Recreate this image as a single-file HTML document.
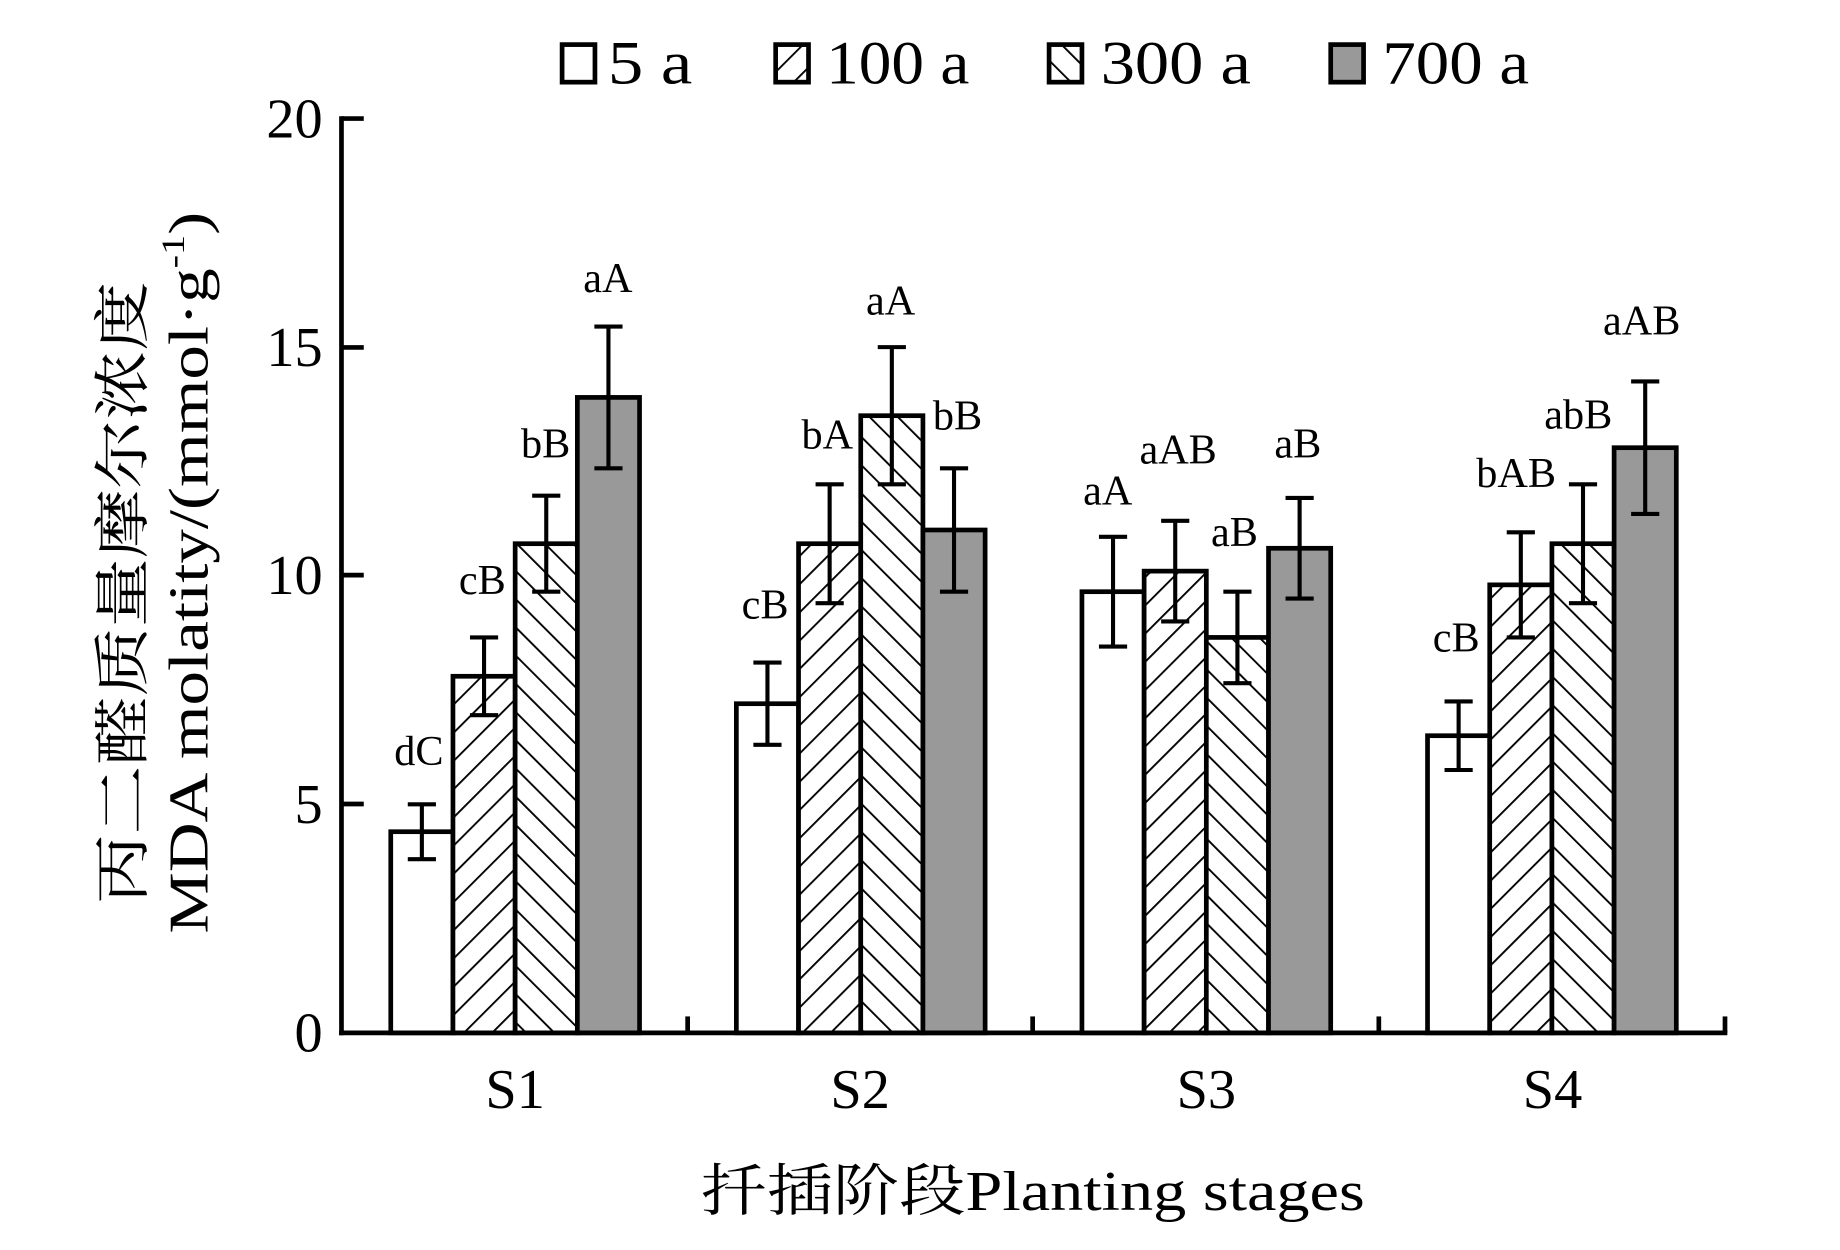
<!DOCTYPE html>
<html><head><meta charset="utf-8"><style>
html,body{margin:0;padding:0;background:#fff;}
svg{display:block;}
text{font-family:"Liberation Serif","Noto Serif CJK SC","Noto Sans CJK SC",serif;fill:#000;}
</style></head><body>
<svg width="1840" height="1250" viewBox="0 0 1568 1065" preserveAspectRatio="none" xmlns="http://www.w3.org/2000/svg">
<defs>
<pattern id="h1" patternUnits="userSpaceOnUse" width="17" height="17" patternTransform="rotate(45)">
<rect width="17" height="17" fill="#fff"/><line x1="0" y1="0" x2="0" y2="17" stroke="#000" stroke-width="3.2"/></pattern>
<pattern id="h2" patternUnits="userSpaceOnUse" width="17" height="17" patternTransform="rotate(-45)">
<rect width="17" height="17" fill="#fff"/><line x1="0" y1="0" x2="0" y2="17" stroke="#000" stroke-width="3.2"/></pattern>
</defs>
<g font-size="52">
<rect x="479" y="38" width="28" height="32" fill="#fff" stroke="#000" stroke-width="4"/>
<text x="518" y="71" textLength="72" lengthAdjust="spacingAndGlyphs">5 a</text>
<rect x="661" y="38" width="28" height="32" fill="url(#h1)" stroke="#000" stroke-width="4"/>
<text x="704" y="71" textLength="122" lengthAdjust="spacingAndGlyphs">100 a</text>
<rect x="894" y="38" width="28" height="32" fill="url(#h2)" stroke="#000" stroke-width="4"/>
<text x="938" y="71" textLength="128" lengthAdjust="spacingAndGlyphs">300 a</text>
<rect x="1134" y="38" width="28" height="32" fill="#999" stroke="#000" stroke-width="4"/>
<text x="1178" y="71" textLength="125" lengthAdjust="spacingAndGlyphs">700 a</text>
</g>
<g id="bars" stroke="#000" stroke-width="4"></g>
<g stroke="#000" stroke-width="4" fill="none">
<line x1="291" y1="99" x2="291" y2="882"/>
<line x1="289" y1="880" x2="1472" y2="880"/>
<line x1="291" y1="101" x2="310" y2="101"/>
<line x1="291" y1="296" x2="310" y2="296"/>
<line x1="291" y1="490" x2="310" y2="490"/>
<line x1="291" y1="685" x2="310" y2="685"/>
<line x1="586" y1="880" x2="586" y2="866"/>
<line x1="880" y1="880" x2="880" y2="866"/>
<line x1="1175" y1="880" x2="1175" y2="866"/>
<line x1="1470" y1="880" x2="1470" y2="866"/>
</g>
<g font-size="48" text-anchor="end">
<text x="275" y="117">20</text>
<text x="275" y="312">15</text>
<text x="275" y="506">10</text>
<text x="275" y="701">5</text>
<text x="275" y="896">0</text>
</g>
<g font-size="48" text-anchor="middle">
<text x="439" y="944">S1</text>
<text x="733" y="944">S2</text>
<text x="1028" y="944">S3</text>
<text x="1323" y="944">S4</text>
</g>
<text x="880" y="1031" font-size="48" text-anchor="middle" textLength="566" lengthAdjust="spacingAndGlyphs">扦插阶段Planting stages</text>
<g transform="translate(121,505) rotate(-90)">
<text x="0" y="0" font-size="48" text-anchor="middle" textLength="530" lengthAdjust="spacingAndGlyphs">丙二醛质量摩尔浓度</text>
</g>
<g transform="translate(177,488) rotate(-90)">
<text x="0" y="0" font-size="48" text-anchor="middle" textLength="615" lengthAdjust="spacingAndGlyphs">MDA molatity/(mmol·g<tspan font-size="28" dy="-20">-1</tspan><tspan dy="20">)</tspan></text>
</g>
<g id="labels" font-size="36" text-anchor="middle"></g>
</svg>
<script>
var vals=[[4.4,7.8,10.7,13.9],[7.2,10.7,13.5,11.0],[9.65,10.1,8.65,10.6],[6.5,9.8,10.7,12.8]];
var errs=[[0.6,0.85,1.05,1.55],[0.9,1.3,1.5,1.35],[1.2,1.1,1.0,1.1],[0.75,1.15,1.3,1.45]];
var labs=[["dC","cB","bB","aA"],["cB","bA","aA","bB"],["aA","aAB","aB","aB"],["cB","bAB","abB","aAB"]];
var lpos=[[[357,640],[411,494],[465,378],[518,237]],[[652,515],[705,370],[759,256],[816,354]],[[944,418],[1004,383],[1052,453],[1106,378]],[[1241,543],[1292,403],[1345,353],[1399,273]]];
var fills=["#fff","url(#h1)","url(#h2)","#999"];
var ns="http://www.w3.org/2000/svg";
var B=document.getElementById("bars"),L=document.getElementById("labels");
function Y(v){return 880-v*38.95;}
for(var g=0;g<4;g++)for(var k=0;k<4;k++){
 var x=333+294.5*g+53*k,v=vals[g][k];
 var r=document.createElementNS(ns,"rect");
 r.setAttribute("x",x);r.setAttribute("y",Y(v));r.setAttribute("width",53);r.setAttribute("height",880-Y(v));
 r.setAttribute("fill",fills[k]);B.appendChild(r);
}
for(var g=0;g<4;g++)for(var k=0;k<4;k++){
 var cx=333+294.5*g+53*k+26.5,v=vals[g][k],e=errs[g][k];
 var p=document.createElementNS(ns,"path");
 p.setAttribute("d","M"+cx+" "+Y(v+e)+"V"+Y(v-e)+"M"+(cx-12)+" "+Y(v+e)+"h24M"+(cx-12)+" "+Y(v-e)+"h24");
 p.setAttribute("fill","none");p.setAttribute("stroke","#000");p.setAttribute("stroke-width","3.5");
 B.appendChild(p);
 var t=document.createElementNS(ns,"text");
 t.setAttribute("x",lpos[g][k][0]);t.setAttribute("y",lpos[g][k][1]+12);t.textContent=labs[g][k];L.appendChild(t);
}
</script>
</body></html>
